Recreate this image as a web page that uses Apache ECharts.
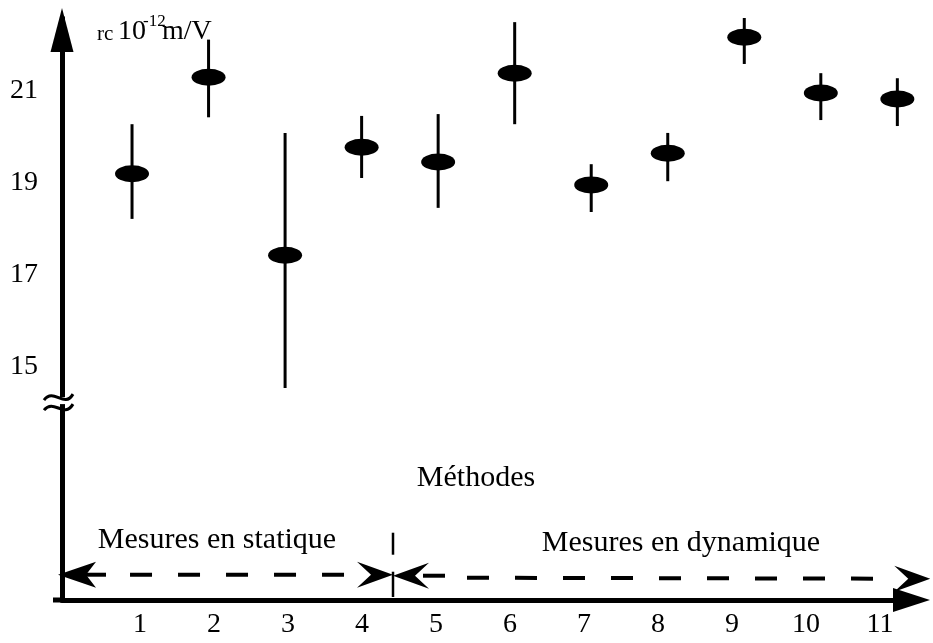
<!DOCTYPE html>
<html>
<head>
<meta charset="utf-8">
<script src="https://cdn.jsdelivr.net/npm/echarts@6/dist/echarts.min.js"></script>
<style>
html,body{margin:0;padding:0;background:#fff;}
#chart{width:933px;height:643px;}
</style>
</head>
<body>
<div id="chart"></div>
<script>
// ---- data ----
const methods = [1, 2, 3, 4, 5, 6, 7, 8, 9, 10, 11];
const values  = [19.20, 21.30, 17.43, 19.78, 19.46, 21.39, 18.96, 19.65, 22.17, 20.96, 20.83];
const upper   = [20.28, 22.12, 20.09, 20.46, 20.50, 22.50, 19.41, 20.09, 22.59, 21.39, 21.28];
const lower   = [18.22, 20.43, 14.54, 19.11, 18.46, 20.28, 18.37, 19.04, 21.59, 20.37, 20.24];
const yTickLabels = [15, 17, 19, 21];
const xTickLabels = methods;
const yTitleParts = ['rc', '10', '-12', 'm/V'];
const xName = 'Méthodes';
const groupLabels = ['Mesures en statique', 'Mesures en dynamique'];
const groupSplit = 4.41;   // boundary between the two groups (method axis units)
const breakValue = 14.3;   // y-axis break position

const FONT = '"Liberation Serif", "Times New Roman", serif';

const chart = echarts.init(document.getElementById('chart'), null, {renderer: 'canvas'});

const gridRect = {left: 62, right: 28, top: 18, height: 582};

chart.setOption({
  backgroundColor: '#fff',
  animation: false,
  grid: [
    Object.assign({}, gridRect),
    Object.assign({}, gridRect)
  ],
  xAxis: [
    {
      type: 'value', gridIndex: 0, min: 0.085, max: 11.10,
      axisLine: {show: true, onZero: false, symbol: ['none', 'triangle'], symbolSize: [24, 37], symbolOffset: [0, 6.5],
                 lineStyle: {color: '#000', width: 5}},
      axisTick: {show: false}, axisLabel: {show: false}, splitLine: {show: false}
    },
    {
      type: 'value', gridIndex: 1, min: -0.054, max: 11.338,
      axisLine: {show: false}, axisTick: {show: false}, splitLine: {show: false},
      axisLabel: {show: true, customValues: xTickLabels, margin: 11, color: '#000',
                  fontFamily: FONT, fontSize: 28}
    }
  ],
  yAxis: [
    {
      type: 'value', gridIndex: 0, min: 9.93, max: 22.59,
      axisLine: {show: true, onZero: false, symbol: ['none', 'triangle'], symbolSize: [23, 44], symbolOffset: [0, -12],
                 lineStyle: {color: '#000', width: 5}},
      axisTick: {show: false}, splitLine: {show: false},
      axisLabel: {show: true, customValues: yTickLabels, margin: 24, color: '#000',
                  fontFamily: FONT, fontSize: 28}
    },
    {type: 'value', gridIndex: 1, min: 0, max: 1, show: false}
  ],
  series: [
    {
      type: 'custom', xAxisIndex: 0, yAxisIndex: 0, z: 2,
      data: methods.map((m, i) => [m, lower[i], upper[i]]),
      encode: {x: 0, y: [1, 2]},
      renderItem: function (params, api) {
        const x = api.value(0);
        const lo = api.coord([x, api.value(1)]);
        const hi = api.coord([x, api.value(2)]);
        return {type: 'line', shape: {x1: lo[0], y1: lo[1], x2: hi[0], y2: hi[1]},
                style: {stroke: '#000', lineWidth: 3}};
      }
    },
    {
      type: 'scatter', xAxisIndex: 0, yAxisIndex: 0, z: 3,
      data: methods.map((m, i) => [m, values[i]]),
      symbol: 'circle', symbolSize: [34, 17],
      itemStyle: {color: '#000', opacity: 1}
    }
  ]
});

// ---- annotations placed through the axes' own conversion ----
function px(x, y) { return chart.convertToPixel({gridIndex: 0}, [x, y]); }

const axisX = px(0.085, 10)[0];
const brk = px(1, breakValue)[1];
const rowY = px(1, 10.48)[1];
const split = px(groupSplit, 10)[0];
const leftTip = px(0.033, 10)[0];
const rightTip = px(11.43, 10)[0];
const baseY = px(1, 9.93)[1];

function head(tx, ty, dir, L, H, N) {
  return {type: 'polygon', z: 100,
    shape: {points: [[tx, ty], [tx + dir * L, ty - H], [tx + dir * N, ty], [tx + dir * L, ty + H]]},
    style: {fill: '#000'}};
}
function seg(x1, y1, x2, y2, w, dash) {
  const s = {stroke: '#000', lineWidth: w};
  if (dash) s.lineDash = dash;
  return {type: 'line', z: 100, shape: {x1, y1, x2, y2}, style: s};
}
function txt(text, x, y, size, align) {
  return {type: 'text', z: 100, style: {text, x, y, fill: '#000', font: size + 'px ' + FONT,
          align: align || 'center', verticalAlign: 'middle'}};
}

const graphics = [
  // small stub of the x axis to the left of the y axis
  seg(axisX - 9, baseY, axisX, baseY, 5),
  // axis break
  {type: 'rect', z: 99, shape: {x: axisX - 6, y: brk - 2, width: 12, height: 7}, style: {fill: '#fff'}},
  {type: 'bezierCurve', z: 100, shape: {x1: axisX - 18, y1: brk + 1, cpx1: axisX - 8, cpy1: brk - 12,
    cpx2: axisX + 2, cpy2: brk + 10, x2: axisX + 11, y2: brk - 5}, style: {stroke: '#000', lineWidth: 3, fill: null}},
  {type: 'bezierCurve', z: 100, shape: {x1: axisX - 18, y1: brk + 11, cpx1: axisX - 8, cpy1: brk - 1,
    cpx2: axisX + 2, cpy2: brk + 20, x2: axisX + 11, y2: brk + 5}, style: {stroke: '#000', lineWidth: 3, fill: null}},
  // left group arrow
  head(leftTip, rowY, 1, 38, 13, 28),
  seg(leftTip + 20, rowY, leftTip + 48, rowY, 4),
  seg(leftTip + 72, rowY, split - 34, rowY, 4, [22, 26]),
  head(split, rowY, -1, 36, 13, 22),
  head(split, rowY + 1, 1, 36, 13, 22),
  // right group arrow
  seg(split + 30, rowY + 1, split + 52, rowY + 1, 4),
  seg(split + 74, rowY + 3, rightTip - 34, rowY + 4, 4, [22, 26]),
  head(rightTip, rowY + 4, -1, 36, 13, 22),
  // separator
  seg(split, rowY - 42, split, rowY - 20, 2.5),
  seg(split, rowY - 3, split, baseY - 3, 2.5),
  // texts
  txt(groupLabels[0], 217, 540, 30),
  txt(groupLabels[1], 681, 543, 30),
  txt(xName, 476, 478, 30),
  txt(yTitleParts[0], 97, 34, 21, 'left'),
  txt(yTitleParts[1], 118, 32, 28, 'left'),
  txt(yTitleParts[2], 143, 22, 17, 'left'),
  txt(yTitleParts[3], 162, 32, 28, 'left')
];

chart.setOption({graphic: {elements: graphics}});
</script>
</body>
</html>
